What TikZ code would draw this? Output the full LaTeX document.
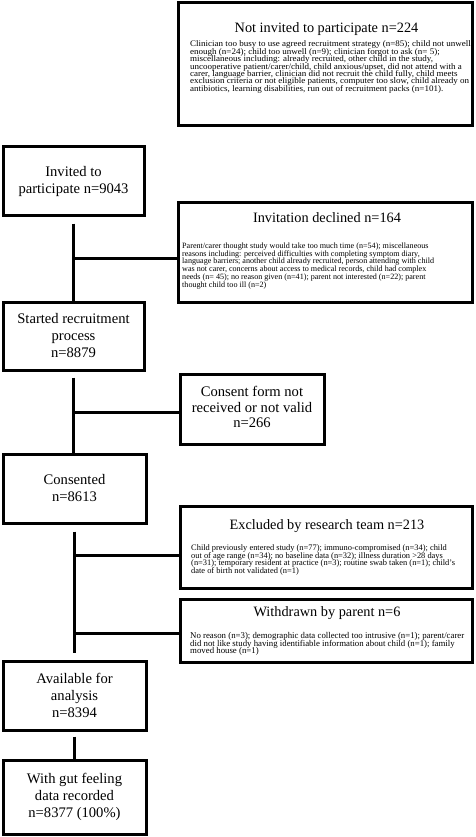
\documentclass[tikz,border=0pt]{standalone}
\usepackage{fontspec}
\setmainfont{Liberation Serif}
\newfontfamily\bodywide[FakeStretch=1.06]{Liberation Serif}
\begin{document}
\begin{tikzpicture}[x=1pt,y=-1pt,
  box/.style={draw,line width=3pt,inner sep=0pt,minimum width=#1},
  mainfont/.style={font=\fontsize{14.6}{17}\selectfont,align=center,inner sep=0pt},
  titlefont/.style={font=\fontsize{14.3}{16}\selectfont,inner sep=0pt},
  bodyfont/.style={align=left,anchor=west,inner sep=0pt,
    execute at begin node={\lineskiplimit=-20pt\lineskip=0pt}},
  conn/.style={line width=3pt}]
\useasboundingbox (0,0) rectangle (475,837);
% boxes
\node[box=294pt,minimum height=123pt] (notinv) at (325.5,64.5) {};
\node[box=141pt,minimum height=68pt] (invited) at (73.5,181) {};
\node[box=294pt,minimum height=100pt] (declined) at (325,252) {};
\node[box=141pt,minimum height=68pt] (started) at (73.5,336) {};
\node[box=144pt,minimum height=70pt] (consentform) at (252,409) {};
\node[box=143pt,minimum height=69pt] (consented) at (74.5,488.5) {};
\node[box=292pt,minimum height=82pt] (excluded) at (326,547) {};
\node[box=292pt,minimum height=63pt] (withdrawn) at (326,630.5) {};
\node[box=143pt,minimum height=69pt] (available) at (74.5,695.5) {};
\node[box=143pt,minimum height=74pt] (gut) at (74.5,797) {};
% main texts
\node[mainfont] (tinvited) at (invited) {Invited to\\participate n=9043};
\node[mainfont] (tstarted) at (started) {Started recruitment\\process\\n=8879};
\node[mainfont,font=\fontsize{14.6}{15.2}\selectfont] (tconsentform) at (252,407) {Consent form not\\received or not valid\\n=266};
\node[mainfont] (tconsented) at (consented) {Consented\\n=8613};
\node[mainfont] (tavailable) at (available) {Available for\\analysis\\n=8394};
\node[mainfont] (tgut) at (gut) {With gut feeling\\data recorded\\n=8377 (100\%)};
% titles
\node[titlefont] (hnotinv) at (326.5,29) {Not invited to participate n=224};
\node[titlefont] (hdeclined) at (327,218) {Invitation declined n=164};
\node[titlefont] (hexcluded) at (327,526) {Excluded by research team n=213};
\node[titlefont] (hwithdrawn) at (327,613) {Withdrawn by parent n=6};
% bodies
\node[bodyfont,font=\bodywide\fontsize{8.5}{7.4}\selectfont] (bnotinv) at (190,67) {Clinician too busy to use agreed recruitment strategy (n=85); child not unwell\\
enough (n=24); child too unwell (n=9); clinician forgot to ask (n= 5);\\
miscellaneous including: already recruited, other child in the study,\\
uncooperative patient/carer/child, child anxious/upset, did not attend with a\\
carer, language barrier, clinician did not recruit the child fully, child meets\\
exclusion criteria or not eligible patients, computer too slow, child already on\\
antibiotics, learning disabilities, run out of recruitment packs (n=101).};
\node[bodyfont,font=\fontsize{8.1}{7.9}\selectfont] (bdeclined) at (182,266) {Parent/carer thought study would take too much time (n=54); miscellaneous\\
reasons including: perceived difficulties with completing symptom diary,\\
language barriers; another child already recruited, person attending with child\\
was not carer, concerns about access to medical records, child had complex\\
needs (n= 45); no reason given (n=41); parent not interested (n=22); parent\\
thought child too ill (n=2)};
\node[bodyfont,font=\fontsize{8.4}{7.8}\selectfont] (bexcluded) at (191,560) {Child previously entered study (n=77); immuno-compromised (n=34); child\\
out of age range (n=34); no baseline data (n=32); illness duration >28 days\\
(n=31); temporary resident at practice (n=3); routine swab taken (n=1); child's\\
date of birth not validated (n=1)};
\node[bodyfont,font=\fontsize{8.8}{7.5}\selectfont] (bwithdrawn) at (190,644) {No reason (n=3); demographic data collected too intrusive (n=1); parent/carer\\
did not like study having identifiable information about child (n=1); family\\
moved house (n=1)};
% connectors
\coordinate (c1) at ([yshift=-7pt]invited.south);
\coordinate (j1) at (c1 |- 0,258);
\draw[conn] (c1) -- (started.north);
\draw[conn] (j1) -- (j1 -| declined.west);
\coordinate (c2) at ([yshift=-6pt]started.south);
\coordinate (j2) at (c2 |- 0,412);
\draw[conn] (c2) -- (consented.north -| c2);
\draw[conn] (j2) -- (j2 -| consentform.west);
\coordinate (c3) at ([yshift=-7pt]consented.south);
\coordinate (e3) at ([yshift=7pt]available.north);
\coordinate (j3) at (c3 |- 0,555);
\coordinate (j4) at (c3 |- 0,633);
\draw[conn] (c3) -- (c3 |- e3);
\draw[conn] (j3) -- (j3 -| excluded.west);
\draw[conn] (j4) -- (j4 -| withdrawn.west);
\coordinate (c5) at ([yshift=-5pt]available.south);
\draw[conn] (c5) -- (gut.north);
\end{tikzpicture}
\end{document}
